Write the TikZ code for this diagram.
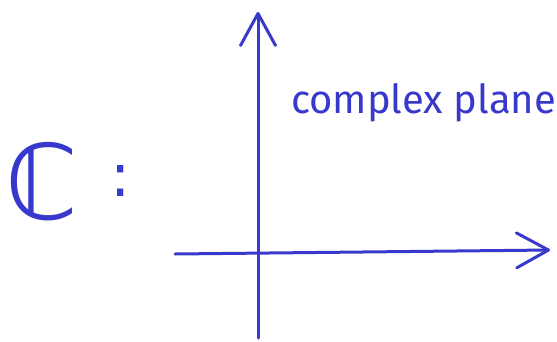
\documentclass[tikz,border=0pt]{standalone}
\usepackage{fontspec}
\setmainfont{Fira Sans}
\newfontfamily\symfont{DejaVu Sans}
\usetikzlibrary{arrows.meta,positioning}
\definecolor{penblue}{RGB}{56,56,204}

\begin{document}
\begin{tikzpicture}[x=1pt, y=-1pt,
    axis/.style={draw=penblue, line width=3pt, line cap=round, line join=round},
    tip/.style={-{Straight Barb[length=32pt, width=35pt, line cap=round, line join=round]}},
    pentext/.style={text=penblue, inner sep=0pt}]
    \useasboundingbox (0,0) rectangle (557,341);
    % axes
    \coordinate (ybot) at (258,338);
    \coordinate (ytop) at (258,12);
    \coordinate (xleft) at (175,254);
    \coordinate (xright) at (550,250);
    \draw[axis, tip] (ybot) -- (ytop);
    \draw[axis, tip] (xleft) -- (xright);
    % labels
    \node[pentext, anchor=base west, font=\fontsize{40}{40}\selectfont]
        (plane) at (291,113) {complex plane};
    \node[pentext, anchor=base west, font=\symfont\fontsize{104}{104}\selectfont]
        (field) at (5,219) {ℂ};
    \node[pentext, right=32pt of field.east, anchor=west,
          font=\symfont\fontsize{60}{60}\selectfont] (colon) {:};
\end{tikzpicture}
\end{document}
